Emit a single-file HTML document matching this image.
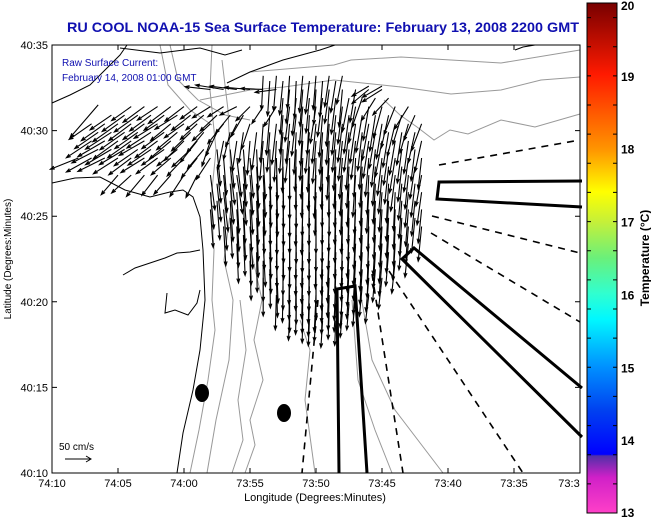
<!DOCTYPE html>
<html><head><meta charset="utf-8">
<style>
html,body{margin:0;padding:0;background:#fff;}
svg{display:block;font-family:"Liberation Sans",Arial,sans-serif;}
</style></head>
<body>
<svg id="chart" width="651" height="518" viewBox="0 0 651 518">
<defs>
<linearGradient id="cbar" x1="0" y1="0" x2="0" y2="1">
<stop offset="0" stop-color="#780000"/>
<stop offset="0.14" stop-color="#ff1a00"/>
<stop offset="0.286" stop-color="#ff9400"/>
<stop offset="0.37" stop-color="#ffff00"/>
<stop offset="0.43" stop-color="#c4f03a"/>
<stop offset="0.5" stop-color="#6af07a"/>
<stop offset="0.57" stop-color="#30ffd0"/>
<stop offset="0.62" stop-color="#00f8ff"/>
<stop offset="0.714" stop-color="#0090ff"/>
<stop offset="0.8" stop-color="#0040f0"/>
<stop offset="0.885" stop-color="#0000ff"/>
<stop offset="0.888" stop-color="#5030a8"/>
<stop offset="0.93" stop-color="#d020c8"/>
<stop offset="1" stop-color="#ff40c8"/>
</linearGradient>
</defs>
<rect x="0" y="0" width="651" height="518" fill="#fff"/>
<text x="323" y="32" text-anchor="middle" font-size="14" font-weight="bold" fill="#1010b0" textLength="512" lengthAdjust="spacingAndGlyphs">RU COOL  NOAA-15  Sea Surface Temperature:  February 13, 2008 2200 GMT</text>

<g id="plot">
<rect x="52" y="45" width="528" height="428" fill="#fff"/>
<g fill="none" stroke="#999" stroke-width="1">
<path d="M212,45 L210,90 L216,150 L211,200 L214,250 L212,300 L215,330 L208,380 L199,430 L190,473"/>
<path d="M222,60 L228,110 L232,200 L224,260 L233,300 L229,360 L216,420 L207,473"/>
<path d="M252,255 L262,300 L254,340 L263,380 L250,420 L255,445 L245,473"/>
<path d="M240,300 L246,350 L238,400 L243,440 L232,473"/>
<path d="M250,72 L334,65 L351,60 L401,57 L451,60 L501,63 L580,50"/>
<path d="M200,100 L250,90 L284,87 L334,80 L401,87 L451,94 L501,90 L541,80 L580,77"/>
<path d="M384,100 L400,115 L417,127 L434,140 L450,130 L468,134 L501,120 L535,127 L580,114"/>
<path d="M360,290 L372,360 L395,410 L443,473"/>
<path d="M352,300 L358,380 L375,430 L392,473"/>
<path d="M170,45 L178,80 L198,100 L225,115 L250,120"/>
<path d="M160,45 L168,85 L190,110 L212,125"/>
<path d="M300,320 L310,350 L305,400 L315,473"/>
</g>
<g fill="none" stroke="#000" stroke-width="1">
<path d="M52,103 L70,95 L90,85 L105,70 L120,55 L127,45"/>
<path d="M120,48 L160,53 L200,48 L225,55 L242,50"/>
<path d="M227,83 L250,72 L283,60 L320,50 L335,45"/>
<path d="M52,183 L75,178 L100,177 L125,190 L150,197 L170,192 L183,190 L193,197 L200,217 L203,250 L205,300 L200,350 L193,390 L183,433 L177,473"/>
<path d="M123,275 L135,268 L150,263 L165,258 L177,253 L190,252 L200,250"/>
<path d="M167,293 L165,313 L175,310 L188,315 L197,303 L200,290"/>
<path d="M515,50 L523,47 L535,45"/>
</g>
<ellipse cx="202" cy="393" rx="7" ry="9" fill="#000"/>
<ellipse cx="284" cy="413" rx="7" ry="9" fill="#000"/>
<g fill="none" stroke="#000" stroke-width="3">
<path d="M339,473 L337,289 L355,286 L367,473"/>
<path d="M582,181 L439,182 L437,199 L582,207"/>
<path d="M582,388 L414,248 L402,259 L582,437"/>
</g>
<g fill="none" stroke="#000" stroke-width="1.6" stroke-dasharray="7,6">
<path d="M318,300 L302,473"/>
<path d="M372,274 L403,473"/>
<path d="M389,271 L523,473"/>
<path d="M432,216 L580,253"/>
<path d="M431,233 L580,322"/>
<path d="M439,165 L580,140"/>
</g>
<g id="arrows" stroke="#000" stroke-width="1.1" fill="none"></g>
<g>
<text x="59" y="450" font-size="10" fill="#000">50 cm/s</text>
<path d="M65,459 L91,459 M86,456 L91,459 L86,462" stroke="#000" fill="none"/>
</g>
<text x="62" y="66" font-size="10" fill="#1010b0">Raw Surface Current:</text>
<text x="62" y="81" font-size="10" fill="#1010b0">February 14, 2008 01:00 GMT</text>
<rect x="52" y="45" width="528" height="428" fill="none" stroke="#000" stroke-width="1"/>
</g>
<g id="axes" font-size="11" fill="#000"></g>
<text x="315" y="501" text-anchor="middle" font-size="11">Longitude (Degrees:Minutes)</text>
<text transform="translate(11,259) rotate(-90)" text-anchor="middle" font-size="10">Latitude (Degrees:Minutes)</text>

<g>
<rect x="587" y="3" width="30" height="510" fill="url(#cbar)" stroke="#000" stroke-width="1"/>
<g id="cticks"></g>
<text transform="translate(649,258) rotate(-90)" text-anchor="middle" font-size="12" font-weight="bold">Temperature (°C)</text>
</g>
</svg>
<script>
// axis data
const xTickMinutes = [70,65,60,55,50,45,40,35,30];
const xTickLabels = ["74:10","74:05","74:00","73:55","73:50","73:45","73:40","73:35","73:3"];
const yTickMinutes = [35,30,25,20,15,10];
const yTickLabels = ["40:35","40:30","40:25","40:20","40:15","40:10"];
const cbarValues = [20,19,18,17,16,15,14,13];

// current vector rows: lat (min past 40N), westmost lon (min past 73W), u and v (cm/s), eastward step 1 min
const rowLat = [33.2,32.6,32.4,31.4,30.4,29.4,28.4,27.4,26.4,25.4,24.4,23.4,22.4,21.4,20.4,19.4,31.5,
  32.9,31.9,30.9,29.9,28.9,27.9,26.9,25.9,24.9,23.9,22.9,21.9,20.9,19.9,18.9,30.9,29.9,28.9];
const rowLon0 = [54,46,58,64,67,67,68,65,58,58,57,56,55,54,53,52,66.5,
  53.5,52.5,53.5,54.5,57.5,57.5,57.5,57.5,56.5,55.5,54.5,53.5,52.5,51.5,50.5,65.5,66.5,66.5];
const rowU = [
[-3,-5,-4,-6,-5,-8,-10],
[-30,-35],
[-45,-50,-48,-45,-40,-38,-6,-5,-4,-8,-6,-10,-30,-35],
[-35,-38,-36,-40,-34,-30,-32,-28,-30,-25,-20,-22,-8,-6,-10,-5,-8,-12,-10,-15,-20,-25],
[-40,-42,-45,-40,-38,-42,-36,-35,-30,-32,-28,-20,-15,-5,-8,-6,-4,-7,-5,-8,-10,-12,-10,-14,-15,-18],
[-45,-48,-44,-42,-45,-40,-38,-35,-30,-15,-10,-8,-5,-6,-4,-8,-5,-6,-3,-7,-8,-10,-12,-10,-8,-12],
[-50,-45,-48,-44,-40,-42,-38,-35,-30,-28,-25,5,8,6,4,2,0,-3,-2,-4,-5,-3,-6,-8,-10,-8,-6],
[-30,-35,-32,-28,-30,-25,-20,8,6,10,5,4,2,0,-2,-3,-1,-4,-5,-3,-6,-8,-6,-10],
[6,8,4,5,3,2,0,-1,-2,0,-3,-2,-4,-5,-3,-6,-8],
[5,6,4,3,2,1,0,-2,0,-1,-2,-3,-2,-4,-3,-5,-6],
[4,3,5,2,1,0,-1,0,-2,-1,-3,-2,-4,-3,-5,-6],
[3,2,4,1,0,-2,-1,-3,-2,-4,-3,-5,-4,-6],
[2,0,3,-1,-2,0,-3,-2,-4,-3,-5,-6],
[0,2,-1,-2,0,-3,-2,-4,-5,-6],
[-2,0,-1,-3,-2,-4,-5,-6],
[-2,-1,-3,-2,-4],
[-50],
[-4,-6,-3,-7,-5,-9],
[-5,-7,-6,-9,-8,-12,-18,-25,-28],
[-6,-5,-8,-4,-6,-7,-9,-11,-10,-13,-16,-20],
[-8,-5,-6,-4,-7,-5,-6,-9,-8,-11,-10,-9,-12],
[6,7,5,3,1,-1,-2,-3,-4,-4,-5,-5,-7,-9,-8,-7],
[7,8,5,4,2,1,-1,-2,-2,-3,-4,-4,-5,-7,-7,-9],
[7,6,5,4,2,1,0,-1,-1,-2,-3,-3,-4,-4,-6,-7],
[5,5,3,3,1,1,-1,-1,-1,-2,-2,-3,-3,-4,-5,-6],
[4,4,3,2,1,0,-1,-1,-2,-2,-3,-3,-4,-4,-6],
[3,3,2,1,-1,-1,-2,-2,-3,-3,-4,-4,-5],
[1,2,0,-1,-1,-2,-2,-3,-4,-4,-5],
[1,0,-1,-1,-2,-2,-3,-4,-5],
[-1,0,-2,-2,-3,-4,-5],
[-1,-2,-2,-3,-4],
[-2,-3,-2],
[-38,-40,-42,-38,-36,-40,-34,-32,-30,-26,-22],
[-42,-46,-44,-41,-43,-40,-37,-34,-30,-20,-12,-8],
[-47,-46,-45,-42,-41,-40,-36,-33,-29]
];
const rowV = [
[-60,-62,-58,-65,-60,-55,-50],
[-18,-20],
[5,8,6,4,2,-5,-60,-65,-62,-60,-66,-58,-25,-22],
[-25,-28,-24,-30,-26,-22,-20,-18,-15,-25,-30,-35,-62,-68,-65,-70,-66,-64,-60,-55,-50,-40],
[-28,-30,-32,-30,-28,-26,-30,-25,-28,-30,-35,-40,-45,-68,-72,-70,-74,-70,-72,-68,-70,-65,-62,-58,-52,-48],
[-30,-28,-32,-30,-26,-30,-32,-35,-38,-45,-50,-55,-60,-70,-72,-74,-70,-75,-72,-70,-68,-66,-64,-60,-58,-55],
[-20,-25,-24,-28,-30,-26,-28,-30,-32,-35,-38,-65,-68,-70,-72,-74,-75,-72,-76,-74,-72,-70,-68,-66,-62,-60,-55],
[-35,-32,-38,-36,-34,-38,-40,-62,-66,-68,-70,-74,-76,-78,-75,-76,-74,-72,-74,-70,-68,-64,-60,-55],
[-65,-70,-72,-74,-76,-78,-80,-78,-76,-78,-75,-74,-72,-70,-68,-62,-58],
[-68,-72,-74,-75,-78,-80,-78,-80,-78,-76,-78,-75,-74,-72,-70,-65,-60],
[-70,-72,-75,-76,-78,-80,-82,-80,-78,-80,-76,-75,-72,-70,-66,-62],
[-70,-74,-76,-78,-80,-78,-80,-76,-78,-74,-72,-70,-66,-60],
[-70,-72,-75,-78,-76,-78,-74,-72,-70,-66,-62,-58],
[-68,-70,-74,-72,-75,-70,-68,-65,-60,-55],
[-62,-66,-68,-65,-62,-58,-55,-50],
[-50,-55,-52,-48,-45],
[-58],
[-62,-60,-66,-58,-64,-56],
[-64,-66,-62,-68,-64,-60,-52,-40,-30],
[-70,-68,-72,-70,-74,-70,-68,-66,-64,-58,-52,-45],
[-66,-70,-72,-74,-72,-74,-70,-70,-68,-64,-62,-58,-54],
[-64,-68,-70,-72,-74,-76,-74,-75,-74,-72,-71,-70,-66,-63,-60,-56],
[-64,-67,-70,-73,-76,-77,-76,-77,-75,-74,-73,-72,-69,-66,-62,-57],
[-67,-71,-73,-75,-77,-79,-79,-79,-77,-77,-76,-74,-71,-69,-64,-59],
[-69,-72,-75,-77,-79,-80,-80,-79,-78,-77,-76,-74,-73,-71,-67,-62],
[-71,-74,-76,-78,-80,-81,-81,-80,-79,-77,-75,-73,-70,-67,-62],
[-72,-75,-77,-79,-79,-80,-78,-77,-76,-73,-71,-67,-62],
[-71,-73,-76,-77,-77,-76,-73,-71,-68,-64,-60],
[-69,-72,-73,-74,-72,-70,-66,-62,-58],
[-64,-67,-66,-64,-60,-57,-53],
[-55,-58,-54,-50,-47],
[-45,-48,-44],
[-26,-29,-30,-28,-27,-25,-27,-26,-28,-32,-38],
[-29,-30,-31,-29,-28,-29,-31,-33,-36,-42,-48,-54],
[-24,-27,-27,-29,-28,-28,-29,-31,-34]
];

const NS = "http://www.w3.org/2000/svg";
const X0 = 52, X1 = 580, Y0 = 473, Y1 = 45;
function xScale(m){ return X0 + (70 - m) * (X1 - X0) / 40; }
function yScale(lat){ return Y0 - (lat - 10) * (Y0 - Y1) / 25; }
const VSCALE = 0.56;

const arrowsG = document.getElementById('arrows');
for (let r = 0; r < rowLat.length; r++) {
  for (let i = 0; i < rowU[r].length; i++) {
    const x = xScale(rowLon0[r] - i), y = yScale(rowLat[r]);
    const dx = rowU[r][i] * VSCALE, dy = -rowV[r][i] * VSCALE;
    const len = Math.hypot(dx, dy) || 1;
    const ex = x + dx, ey = y + dy;
    const ux = dx / len, uy = dy / len, h = 4.5;
    const ax = ex - h * (ux * 0.94 - uy * 0.34), ay = ey - h * (uy * 0.94 + ux * 0.34);
    const bx = ex - h * (ux * 0.94 + uy * 0.34), by = ey - h * (uy * 0.94 - ux * 0.34);
    const p = document.createElementNS(NS, 'path');
    p.setAttribute('d', `M${x.toFixed(1)},${y.toFixed(1)} L${ex.toFixed(1)},${ey.toFixed(1)} M${ax.toFixed(1)},${ay.toFixed(1)} L${ex.toFixed(1)},${ey.toFixed(1)} L${bx.toFixed(1)},${by.toFixed(1)}`);
    
    
    arrowsG.appendChild(p);
  }
}

const axesG = document.getElementById('axes');
xTickMinutes.forEach((m, i) => {
  const x = xScale(m);
  const t = document.createElementNS(NS, 'path');
  t.setAttribute('d', `M${x},${Y0} L${x},${Y0-5} M${x},${Y1} L${x},${Y1+5}`);
  t.setAttribute('stroke', '#000');
  
  
  axesG.appendChild(t);
  const tx = document.createElementNS(NS, 'text');
  tx.setAttribute('x', i === xTickLabels.length - 1 ? x - 11 : x);
  tx.setAttribute('y', 487);
  tx.setAttribute('text-anchor', 'middle');
  tx.textContent = xTickLabels[i];
  
  
  axesG.appendChild(tx);
});
yTickMinutes.forEach((lat, i) => {
  const y = yScale(lat);
  const t = document.createElementNS(NS, 'path');
  t.setAttribute('d', `M${X0},${y} L${X0+5},${y} M${X1},${y} L${X1-5},${y}`);
  t.setAttribute('stroke', '#000');
  
  
  axesG.appendChild(t);
  const tx = document.createElementNS(NS, 'text');
  tx.setAttribute('x', 48);
  tx.setAttribute('y', y + 4);
  tx.setAttribute('text-anchor', 'end');
  tx.textContent = yTickLabels[i];
  
  
  axesG.appendChild(tx);
});

const ctG = document.getElementById('cticks');
function cScale(v){ return 513 - (v - 13) * 510 / 7; }
for (let k = 0; k <= 17; k++) {
  const y = 513 - k * 510 / 17.5;
  const t = document.createElementNS(NS, 'path');
  t.setAttribute('d', `M587,${y} L591,${y} M617,${y} L613,${y}`);
  t.setAttribute('stroke', '#000');
  
  
  ctG.appendChild(t);
}
cbarValues.forEach(v => {
  const tx = document.createElementNS(NS, 'text');
  tx.setAttribute('x', 621);
  tx.setAttribute('y', Math.min(Math.max(cScale(v) + 5, 10), 517));
  tx.setAttribute('font-size', '12');
  tx.setAttribute('font-weight', 'bold');
  tx.textContent = v;
  
  
  ctG.appendChild(tx);
});
</script>
</body></html>
